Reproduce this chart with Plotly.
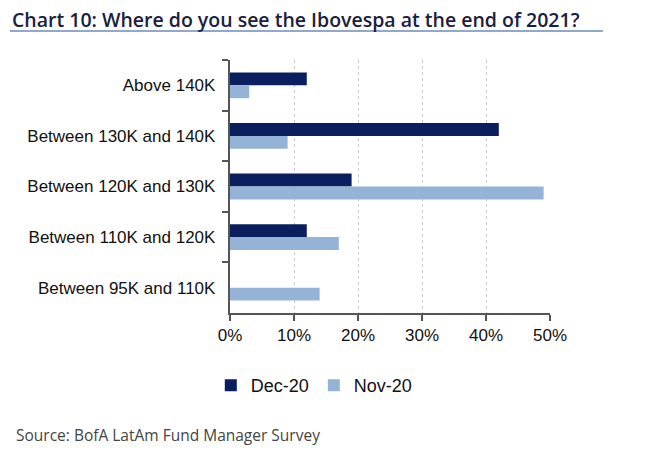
import plotly.graph_objects as go

categories = ["Above 140K", "Between 130K and 140K", "Between 120K and 130K",
              "Between 110K and 120K", "Between 95K and 110K"]
dec20 = [0.12, 0.42, 0.19, 0.12, 0.0]
nov20 = [0.03, 0.09, 0.49, 0.17, 0.14]
x_ticks = [0, 0.1, 0.2, 0.3, 0.4, 0.5]
x_tick_labels = ["0%", "10%", "20%", "30%", "40%", "50%"]

fig = go.Figure()
fig.add_trace(go.Bar(y=categories, x=dec20, orientation="h", name="Dec-20",
                     marker=dict(color="#0b1f5e", line=dict(width=0))))
fig.add_trace(go.Bar(y=categories, x=nov20, orientation="h", name="Nov-20",
                     marker=dict(color="#95b3d7", line=dict(width=0))))

fig.update_layout(
    width=639, height=451,
    margin=dict(l=222, r=97, t=52, b=146),
    paper_bgcolor="white", plot_bgcolor="white",
    barmode="group", bargap=0.49, bargroupgap=0,
    font=dict(family="Liberation Sans, Arial", size=17, color="#111111"),
    title=dict(text="Chart 10: Where do you see the Ibovespa at the end of 2021?",
               xref="container", yref="container", x=0.0063, y=0.9735,
               xanchor="left", yanchor="middle",
               font=dict(family="Open Sans", size=19.5, weight=600, color="#1a2040")),
    showlegend=True,
    legend=dict(orientation="h", x=-0.06, y=-0.214, xanchor="left", yanchor="top",
                traceorder="normal", font=dict(size=18, color="#111111"),
                itemwidth=30, tracegroupgap=0),
    xaxis=dict(range=[0, 0.5], tickvals=x_ticks, ticktext=x_tick_labels,
               showgrid=True, gridcolor="#c8c8c8", griddash="3px,3px", gridwidth=1,
               showline=True, linecolor="#555555", linewidth=1.5,
               ticks="outside", ticklen=6, tickcolor="#555555", tickwidth=1.5,
               zeroline=False, fixedrange=True),
    yaxis=dict(categoryorder="array", categoryarray=categories, autorange="reversed",
               showline=True, linecolor="#555555", linewidth=1.5,
               ticks="outside", tickson="boundaries", ticklen=6, tickcolor="#555555",
               tickwidth=1.5, showgrid=False, ticksuffix="  ", fixedrange=True),
    annotations=[
        dict(text="Source: BofA LatAm Fund Manager Survey",
             xref="paper", yref="paper", x=-0.675, y=-0.482, xanchor="left", yanchor="middle",
             showarrow=False, font=dict(family="Open Sans", size=15.5, color="#444444")),
    ],
    shapes=[dict(type="line", xref="paper", yref="paper", x0=-0.6875, x1=1.1656,
                 y0=1.1146, y1=1.1146, line=dict(color="#8fa8cc", width=2))],
)

fig.write_html("out.html")
